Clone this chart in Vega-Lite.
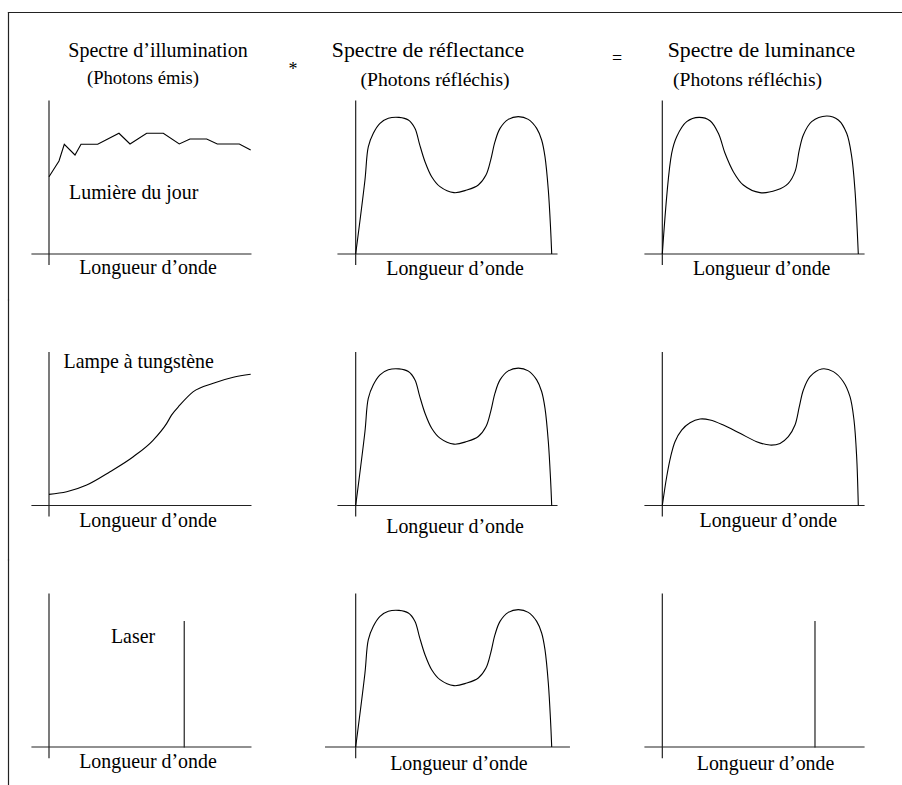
{
  "$schema": "https://vega.github.io/schema/vega-lite/v6.json",
  "background": "white",
  "padding": 0,
  "columns": 3,
  "spacing": 0,
  "bounds": "flush",
  "align": "each",
  "config": {"view": {"stroke": null}, "concat": {"spacing": 0}, "text": {"font": "Liberation Serif", "baseline": "alphabetic", "color": "black"}},
  "datasets": {
    "segs": [
      {"p": "r1c1", "w": 400, "i": 1, "w2": 400, "i2": -0.068},
      {"p": "r1c1", "w": 374, "i": 0, "w2": 709, "i2": 0},
      {"p": "r1c1", "w": 338.01, "i": 1.5784, "w2": 794.9, "i2": 1.5784},
      {"p": "r1c1", "w": 338.01, "i": 1.5784, "w2": 338.01, "i2": -0.3007},
      {"p": "r1c2", "w": 400, "i": 1, "w2": 400, "i2": -0.068},
      {"p": "r1c2", "w": 373, "i": 0, "w2": 708, "i2": 0},
      {"p": "r1c2", "w": 325.5, "i": 1.5784, "w2": 793.8, "i2": 1.5784},
      {"p": "r1c3", "w": 400, "i": 1, "w2": 400, "i2": -0.068},
      {"p": "r1c3", "w": 373.5, "i": 0, "w2": 708.7, "i2": 0},
      {"p": "r1c3", "w": 324.5, "i": 1.5784, "w2": 766.9, "i2": 1.5784},
      {"p": "r2c1", "w": 400, "i": 1, "w2": 400, "i2": -0.068},
      {"p": "r2c1", "w": 374, "i": 0, "w2": 709, "i2": 0},
      {"p": "r2c1", "w": 338.01, "i": 1.3431, "w2": 338.01, "i2": -0.3562},
      {"p": "r2c2", "w": 400, "i": 1, "w2": 400, "i2": -0.068},
      {"p": "r2c2", "w": 373, "i": 0, "w2": 708, "i2": 0},
      {"p": "r2c3", "w": 400, "i": 1, "w2": 400, "i2": -0.068},
      {"p": "r2c3", "w": 373.5, "i": 0, "w2": 708.7, "i2": 0},
      {"p": "r3c1", "w": 400, "i": 1, "w2": 400, "i2": -0.07},
      {"p": "r3c1", "w": 374, "i": 0, "w2": 709, "i2": 0},
      {"p": "r3c1", "w": 607, "i": 0.819, "w2": 607, "i2": 0},
      {"p": "r3c1", "w": 338.01, "i": 1.2222, "w2": 338.01, "i2": -0.2484},
      {"p": "r3c2", "w": 400, "i": 1, "w2": 400, "i2": -0.07},
      {"p": "r3c2", "w": 354, "i": 0, "w2": 727, "i2": 0},
      {"p": "r3c3", "w": 400, "i": 1, "w2": 400, "i2": -0.07},
      {"p": "r3c3", "w": 373.5, "i": 0, "w2": 708.7, "i2": 0},
      {"p": "r3c3", "w": 633.7, "i": 0.819, "w2": 633.7, "i2": 0}
    ],
    "daylight": [
      {"w": 400, "i": 0.505}, {"w": 415.3, "i": 0.608}, {"w": 423.4, "i": 0.717}, {"w": 439.8, "i": 0.647},
      {"w": 449, "i": 0.717}, {"w": 474.5, "i": 0.717}, {"w": 507.1, "i": 0.789}, {"w": 524, "i": 0.719},
      {"w": 549.5, "i": 0.789}, {"w": 575, "i": 0.789}, {"w": 599.4, "i": 0.719}, {"w": 615.8, "i": 0.752},
      {"w": 641.4, "i": 0.752}, {"w": 657.6, "i": 0.719}, {"w": 691.3, "i": 0.719}, {"w": 708.7, "i": 0.68}
    ],
    "refl": [
      {"w": 400, "i": 0}, {"w": 414.2, "i": 0.484}, {"w": 419.3, "i": 0.70}, {"w": 427, "i": 0.789},
      {"w": 437.2, "i": 0.854}, {"w": 450, "i": 0.887}, {"w": 466.3, "i": 0.893}, {"w": 480.6, "i": 0.876},
      {"w": 490.8, "i": 0.821}, {"w": 497.4, "i": 0.723}, {"w": 506.1, "i": 0.603}, {"w": 516.3, "i": 0.505},
      {"w": 529, "i": 0.44}, {"w": 550.5, "i": 0.401}, {"w": 569.9, "i": 0.418}, {"w": 587.7, "i": 0.451},
      {"w": 599.4, "i": 0.516}, {"w": 606.6, "i": 0.614}, {"w": 613.2, "i": 0.734}, {"w": 620.9, "i": 0.821},
      {"w": 633.6, "i": 0.88}, {"w": 648.9, "i": 0.898}, {"w": 664.2, "i": 0.88}, {"w": 677, "i": 0.821},
      {"w": 684.6, "i": 0.745}, {"w": 689.7, "i": 0.636}, {"w": 694.8, "i": 0.418}, {"w": 698.4, "i": 0.157},
      {"w": 700, "i": 0}
    ],
    "spectra": [
      {"p": "r1c3", "w": 400, "i": 0}, {"p": "r1c3", "w": 414.3, "i": 0.658}, {"p": "r1c3", "w": 422, "i": 0.767},
      {"p": "r1c3", "w": 437.3, "i": 0.865}, {"p": "r1c3", "w": 456.2, "i": 0.893}, {"p": "r1c3", "w": 473, "i": 0.871},
      {"p": "r1c3", "w": 485.8, "i": 0.789}, {"p": "r1c3", "w": 496, "i": 0.658}, {"p": "r1c3", "w": 508.7, "i": 0.538},
      {"p": "r1c3", "w": 524, "i": 0.451}, {"p": "r1c3", "w": 549.5, "i": 0.401}, {"p": "r1c3", "w": 575.1, "i": 0.418},
      {"p": "r1c3", "w": 592.9, "i": 0.462}, {"p": "r1c3", "w": 603.1, "i": 0.538}, {"p": "r1c3", "w": 609.7, "i": 0.68},
      {"p": "r1c3", "w": 615.9, "i": 0.778}, {"p": "r1c3", "w": 628.6, "i": 0.865}, {"p": "r1c3", "w": 651.6, "i": 0.902},
      {"p": "r1c3", "w": 669.4, "i": 0.876}, {"p": "r1c3", "w": 682.2, "i": 0.789}, {"p": "r1c3", "w": 689.9, "i": 0.636},
      {"p": "r1c3", "w": 694.9, "i": 0.418}, {"p": "r1c3", "w": 700, "i": 0},
      {"p": "r2c1", "w": 400, "i": 0.073}, {"p": "r2c1", "w": 427.1, "i": 0.09}, {"p": "r2c1", "w": 457.7, "i": 0.134},
      {"p": "r2c1", "w": 493.4, "i": 0.221}, {"p": "r2c1", "w": 529, "i": 0.319}, {"p": "r2c1", "w": 559.6, "i": 0.428},
      {"p": "r2c1", "w": 580.2, "i": 0.537}, {"p": "r2c1", "w": 587.8, "i": 0.592}, {"p": "r2c1", "w": 600.5, "i": 0.657},
      {"p": "r2c1", "w": 620.9, "i": 0.744}, {"p": "r2c1", "w": 651.5, "i": 0.799}, {"p": "r2c1", "w": 682.1, "i": 0.838},
      {"p": "r2c1", "w": 708.7, "i": 0.858},
      {"p": "r2c3", "w": 400, "i": 0}, {"p": "r2c3", "w": 406.7, "i": 0.188}, {"p": "r2c3", "w": 412.8, "i": 0.319},
      {"p": "r2c3", "w": 419.4, "i": 0.417}, {"p": "r2c3", "w": 429.6, "i": 0.493}, {"p": "r2c3", "w": 442.4, "i": 0.541},
      {"p": "r2c3", "w": 457.7, "i": 0.565}, {"p": "r2c3", "w": 473, "i": 0.559}, {"p": "r2c3", "w": 493.4, "i": 0.526},
      {"p": "r2c3", "w": 518.9, "i": 0.472}, {"p": "r2c3", "w": 544.4, "i": 0.417}, {"p": "r2c3", "w": 564.8, "i": 0.395},
      {"p": "r2c3", "w": 580.2, "i": 0.406}, {"p": "r2c3", "w": 592.9, "i": 0.45}, {"p": "r2c3", "w": 603.1, "i": 0.526},
      {"p": "r2c3", "w": 609.7, "i": 0.646}, {"p": "r2c3", "w": 615.9, "i": 0.755}, {"p": "r2c3", "w": 626.1, "i": 0.842},
      {"p": "r2c3", "w": 643.9, "i": 0.892}, {"p": "r2c3", "w": 661.8, "i": 0.875}, {"p": "r2c3", "w": 677.1, "i": 0.809},
      {"p": "r2c3", "w": 687.3, "i": 0.711}, {"p": "r2c3", "w": 693.4, "i": 0.559}, {"p": "r2c3", "w": 697.5, "i": 0.319},
      {"p": "r2c3", "w": 700, "i": 0}
    ],
    "texts": [
      {"p": "r1c1", "role": "title1", "t": "Spectre d’illumination", "w": 566.8, "i": 1.2895},
      {"p": "r1c1", "role": "sub1", "t": "(Photons émis)", "w": 543.9, "i": 1.108},
      {"p": "r1c1", "role": "note", "t": "Lumière du jour", "w": 529.6, "i": 0.357},
      {"p": "r1c1", "role": "label", "t": "Longueur d’onde", "w": 551.5, "i": -0.133},
      {"p": "r1c1", "role": "op", "t": "*", "w": 773.5, "i": 1.17},
      {"p": "r1c2", "role": "title", "t": "Spectre de réflectance", "w": 510.7, "i": 1.2895},
      {"p": "r1c2", "role": "sub", "t": "(Photons réfléchis)", "w": 521.4, "i": 1.098},
      {"p": "r1c2", "role": "label", "t": "Longueur d’onde", "w": 552, "i": -0.137},
      {"p": "r1c3", "role": "title", "t": "Spectre de luminance", "w": 551.8, "i": 1.2895},
      {"p": "r1c3", "role": "sub", "t": "(Photons réfléchis)", "w": 530.4, "i": 1.098},
      {"p": "r1c3", "role": "label", "t": "Longueur d’onde", "w": 552.1, "i": -0.137},
      {"p": "r1c3", "role": "op", "t": "=", "w": 330.7, "i": 1.2425},
      {"p": "r2c1", "role": "note", "t": "Lampe à tungstène", "w": 537.3, "i": 0.897},
      {"p": "r2c1", "role": "label", "t": "Longueur d’onde", "w": 551.5, "i": -0.139},
      {"p": "r2c2", "role": "label", "t": "Longueur d’onde", "w": 552, "i": -0.178},
      {"p": "r2c3", "role": "label", "t": "Longueur d’onde", "w": 562.2, "i": -0.143},
      {"p": "r3c1", "role": "note", "t": "Laser", "w": 528.6, "i": 0.678},
      {"p": "r3c1", "role": "label", "t": "Longueur d’onde", "w": 551.5, "i": -0.139},
      {"p": "r3c2", "role": "label", "t": "Longueur d’onde", "w": 558, "i": -0.15},
      {"p": "r3c3", "role": "label", "t": "Longueur d’onde", "w": 558, "i": -0.15}
    ]
  },
  "concat": [
    {
      "width": 307, "height": 300,
      "encoding": {
        "x": {"field": "w", "type": "quantitative", "scale": {"domain": [325, 794.9], "nice": false, "zero": false}, "axis": null},
        "y": {"field": "i", "type": "quantitative", "scale": {"domain": [-0.3007, 1.6601], "nice": false, "zero": false}, "axis": null},
        "text": {"field": "t"}
      },
      "layer": [
        {"data": {"name": "segs"}, "transform": [{"filter": "datum.p === 'r1c1'"}], "mark": {"type": "rule", "color": "#222", "strokeWidth": 1.2, "strokeCap": "square"}, "encoding": {"x2": {"field": "w2"}, "y2": {"field": "i2"}}},
        {"data": {"name": "daylight"}, "mark": {"type": "line", "color": "black", "strokeWidth": 1.1}},
        {"data": {"name": "texts"}, "transform": [{"filter": "datum.p === 'r1c1' && datum.role === 'title1'"}], "mark": {"type": "text", "fontSize": 20}},
        {"data": {"name": "texts"}, "transform": [{"filter": "datum.p === 'r1c1' && datum.role === 'sub1'"}], "mark": {"type": "text", "fontSize": 18.6}},
        {"data": {"name": "texts"}, "transform": [{"filter": "datum.p === 'r1c1' && (datum.role === 'note' || datum.role === 'label')"}], "mark": {"type": "text", "fontSize": 19.9}},
        {"data": {"name": "texts"}, "transform": [{"filter": "datum.p === 'r1c1' && datum.role === 'op'"}], "mark": {"type": "text", "fontSize": 18}}
      ]
    },
    {
      "width": 306, "height": 300,
      "encoding": {
        "x": {"field": "w", "type": "quantitative", "scale": {"domain": [325.5, 793.8], "nice": false, "zero": false}, "axis": null},
        "y": {"field": "i", "type": "quantitative", "scale": {"domain": [-0.3007, 1.6601], "nice": false, "zero": false}, "axis": null},
        "text": {"field": "t"}
      },
      "layer": [
        {"data": {"name": "segs"}, "transform": [{"filter": "datum.p === 'r1c2'"}], "mark": {"type": "rule", "color": "#222", "strokeWidth": 1.2, "strokeCap": "square"}, "encoding": {"x2": {"field": "w2"}, "y2": {"field": "i2"}}},
        {"data": {"name": "refl"}, "mark": {"type": "line", "color": "black", "strokeWidth": 1.1, "interpolate": "catmull-rom"}},
        {"data": {"name": "texts"}, "transform": [{"filter": "datum.p === 'r1c2' && datum.role === 'title'"}], "mark": {"type": "text", "fontSize": 21.8}},
        {"data": {"name": "texts"}, "transform": [{"filter": "datum.p === 'r1c2' && datum.role === 'sub'"}], "mark": {"type": "text", "fontSize": 19.7}},
        {"data": {"name": "texts"}, "transform": [{"filter": "datum.p === 'r1c2' && datum.role === 'label'"}], "mark": {"type": "text", "fontSize": 19.9}}
      ]
    },
    {
      "width": 289, "height": 300,
      "encoding": {
        "x": {"field": "w", "type": "quantitative", "scale": {"domain": [324.5, 766.9], "nice": false, "zero": false}, "axis": null},
        "y": {"field": "i", "type": "quantitative", "scale": {"domain": [-0.3007, 1.6601], "nice": false, "zero": false}, "axis": null},
        "text": {"field": "t"}
      },
      "layer": [
        {"data": {"name": "segs"}, "transform": [{"filter": "datum.p === 'r1c3'"}], "mark": {"type": "rule", "color": "#222", "strokeWidth": 1.2, "strokeCap": "square"}, "encoding": {"x2": {"field": "w2"}, "y2": {"field": "i2"}}},
        {"data": {"name": "spectra"}, "transform": [{"filter": "datum.p === 'r1c3'"}], "mark": {"type": "line", "color": "black", "strokeWidth": 1.1, "interpolate": "catmull-rom"}},
        {"data": {"name": "texts"}, "transform": [{"filter": "datum.p === 'r1c3' && datum.role === 'title'"}], "mark": {"type": "text", "fontSize": 21.8}},
        {"data": {"name": "texts"}, "transform": [{"filter": "datum.p === 'r1c3' && datum.role === 'sub'"}], "mark": {"type": "text", "fontSize": 19.7}},
        {"data": {"name": "texts"}, "transform": [{"filter": "datum.p === 'r1c3' && datum.role === 'label'"}], "mark": {"type": "text", "fontSize": 19.9}},
        {"data": {"name": "texts"}, "transform": [{"filter": "datum.p === 'r1c3' && datum.role === 'op'"}], "mark": {"type": "text", "fontSize": 18}}
      ]
    },
    {
      "width": 307, "height": 260,
      "encoding": {
        "x": {"field": "w", "type": "quantitative", "scale": {"domain": [325, 794.9], "nice": false, "zero": false}, "axis": null},
        "y": {"field": "i", "type": "quantitative", "scale": {"domain": [-0.3562, 1.3431], "nice": false, "zero": false}, "axis": null},
        "text": {"field": "t"}
      },
      "layer": [
        {"data": {"name": "segs"}, "transform": [{"filter": "datum.p === 'r2c1'"}], "mark": {"type": "rule", "color": "#222", "strokeWidth": 1.2, "strokeCap": "square"}, "encoding": {"x2": {"field": "w2"}, "y2": {"field": "i2"}}},
        {"data": {"name": "spectra"}, "transform": [{"filter": "datum.p === 'r2c1'"}], "mark": {"type": "line", "color": "black", "strokeWidth": 1.1, "interpolate": "monotone"}},
        {"data": {"name": "texts"}, "transform": [{"filter": "datum.p === 'r2c1'"}], "mark": {"type": "text", "fontSize": 19.9}}
      ]
    },
    {
      "width": 306, "height": 260,
      "encoding": {
        "x": {"field": "w", "type": "quantitative", "scale": {"domain": [325.5, 793.8], "nice": false, "zero": false}, "axis": null},
        "y": {"field": "i", "type": "quantitative", "scale": {"domain": [-0.3562, 1.3431], "nice": false, "zero": false}, "axis": null},
        "text": {"field": "t"}
      },
      "layer": [
        {"data": {"name": "segs"}, "transform": [{"filter": "datum.p === 'r2c2'"}], "mark": {"type": "rule", "color": "#222", "strokeWidth": 1.2, "strokeCap": "square"}, "encoding": {"x2": {"field": "w2"}, "y2": {"field": "i2"}}},
        {"data": {"name": "refl"}, "mark": {"type": "line", "color": "black", "strokeWidth": 1.1, "interpolate": "catmull-rom"}},
        {"data": {"name": "texts"}, "transform": [{"filter": "datum.p === 'r2c2'"}], "mark": {"type": "text", "fontSize": 19.9}}
      ]
    },
    {
      "width": 289, "height": 260,
      "encoding": {
        "x": {"field": "w", "type": "quantitative", "scale": {"domain": [324.5, 766.9], "nice": false, "zero": false}, "axis": null},
        "y": {"field": "i", "type": "quantitative", "scale": {"domain": [-0.3562, 1.3431], "nice": false, "zero": false}, "axis": null},
        "text": {"field": "t"}
      },
      "layer": [
        {"data": {"name": "segs"}, "transform": [{"filter": "datum.p === 'r2c3'"}], "mark": {"type": "rule", "color": "#222", "strokeWidth": 1.2, "strokeCap": "square"}, "encoding": {"x2": {"field": "w2"}, "y2": {"field": "i2"}}},
        {"data": {"name": "spectra"}, "transform": [{"filter": "datum.p === 'r2c3'"}], "mark": {"type": "line", "color": "black", "strokeWidth": 1.1, "interpolate": "catmull-rom"}},
        {"data": {"name": "texts"}, "transform": [{"filter": "datum.p === 'r2c3'"}], "mark": {"type": "text", "fontSize": 19.9}}
      ]
    },
    {
      "width": 307, "height": 225,
      "encoding": {
        "x": {"field": "w", "type": "quantitative", "scale": {"domain": [325, 794.9], "nice": false, "zero": false}, "axis": null},
        "y": {"field": "i", "type": "quantitative", "scale": {"domain": [-0.2484, 1.2222], "nice": false, "zero": false}, "axis": null},
        "text": {"field": "t"}
      },
      "layer": [
        {"data": {"name": "segs"}, "transform": [{"filter": "datum.p === 'r3c1'"}], "mark": {"type": "rule", "color": "#222", "strokeWidth": 1.2, "strokeCap": "square"}, "encoding": {"x2": {"field": "w2"}, "y2": {"field": "i2"}}},
        {"data": {"name": "texts"}, "transform": [{"filter": "datum.p === 'r3c1'"}], "mark": {"type": "text", "fontSize": 19.9}}
      ]
    },
    {
      "width": 306, "height": 225,
      "encoding": {
        "x": {"field": "w", "type": "quantitative", "scale": {"domain": [325.5, 793.8], "nice": false, "zero": false}, "axis": null},
        "y": {"field": "i", "type": "quantitative", "scale": {"domain": [-0.2484, 1.2222], "nice": false, "zero": false}, "axis": null},
        "text": {"field": "t"}
      },
      "layer": [
        {"data": {"name": "segs"}, "transform": [{"filter": "datum.p === 'r3c2'"}], "mark": {"type": "rule", "color": "#222", "strokeWidth": 1.2, "strokeCap": "square"}, "encoding": {"x2": {"field": "w2"}, "y2": {"field": "i2"}}},
        {"data": {"name": "refl"}, "mark": {"type": "line", "color": "black", "strokeWidth": 1.1, "interpolate": "catmull-rom"}},
        {"data": {"name": "texts"}, "transform": [{"filter": "datum.p === 'r3c2'"}], "mark": {"type": "text", "fontSize": 19.9}}
      ]
    },
    {
      "width": 289, "height": 225,
      "encoding": {
        "x": {"field": "w", "type": "quantitative", "scale": {"domain": [324.5, 766.9], "nice": false, "zero": false}, "axis": null},
        "y": {"field": "i", "type": "quantitative", "scale": {"domain": [-0.2484, 1.2222], "nice": false, "zero": false}, "axis": null},
        "text": {"field": "t"}
      },
      "layer": [
        {"data": {"name": "segs"}, "transform": [{"filter": "datum.p === 'r3c3'"}], "mark": {"type": "rule", "color": "#222", "strokeWidth": 1.2, "strokeCap": "square"}, "encoding": {"x2": {"field": "w2"}, "y2": {"field": "i2"}}},
        {"data": {"name": "texts"}, "transform": [{"filter": "datum.p === 'r3c3'"}], "mark": {"type": "text", "fontSize": 19.9}}
      ]
    }
  ]
}
